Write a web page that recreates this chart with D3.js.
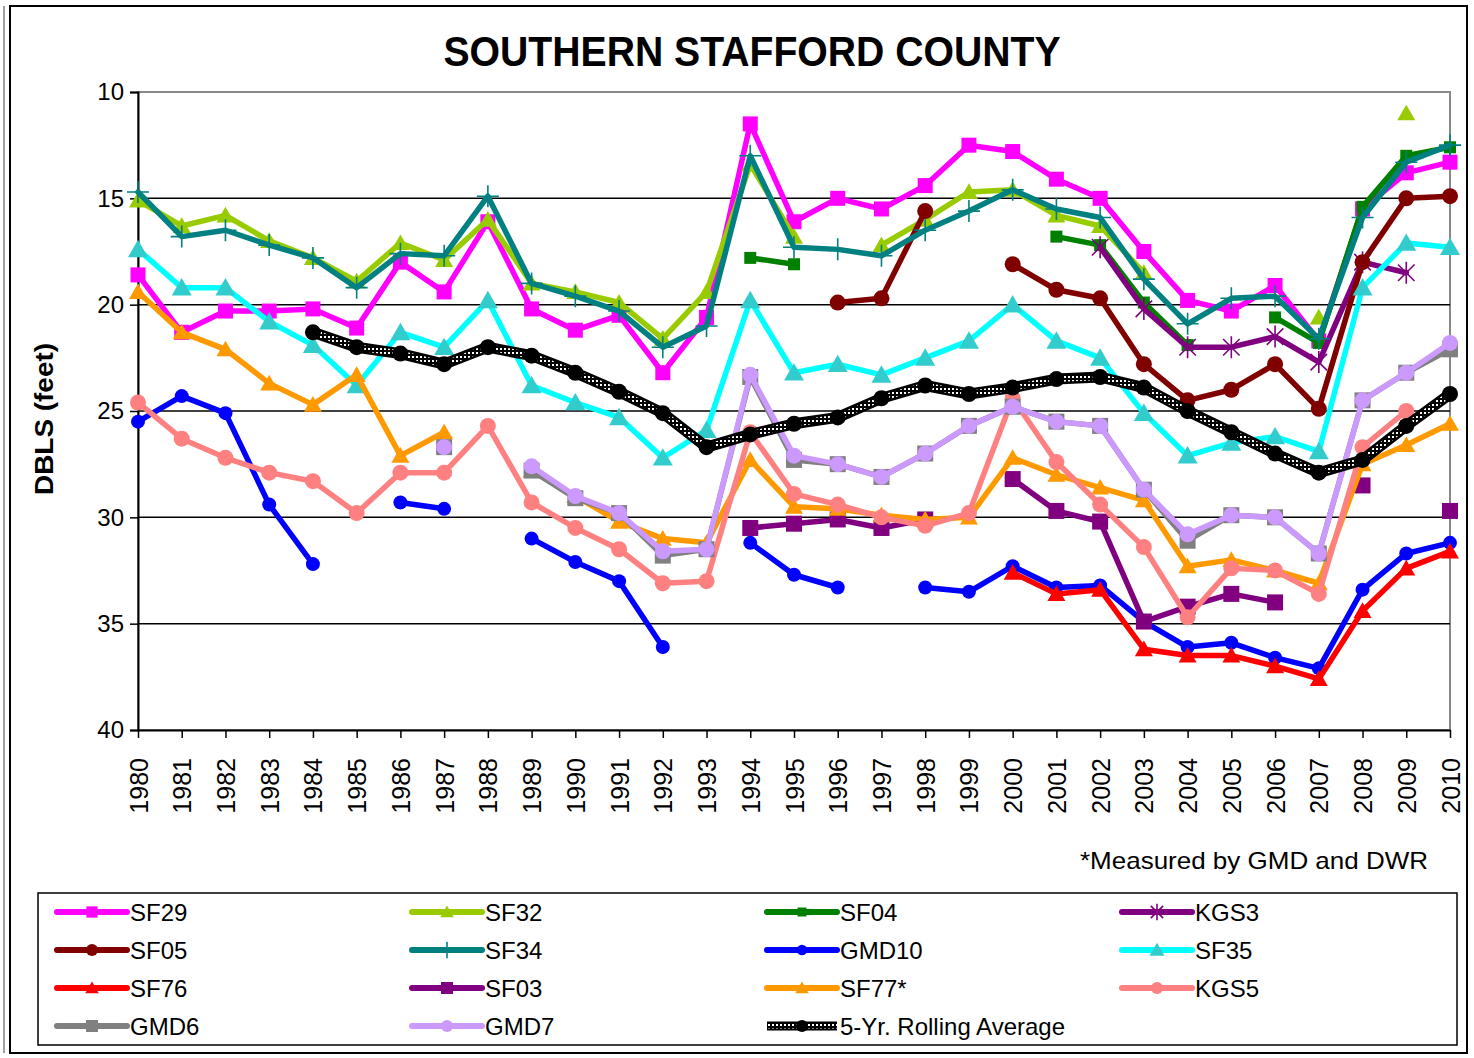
<!DOCTYPE html>
<html>
<head>
<meta charset="utf-8">
<script src="https://cdn.jsdelivr.net/npm/d3@7"></script>
<style>
  body { margin: 0; background: #fff; }
  text { font-family: "Liberation Sans", Arial, sans-serif; fill: #000; }
</style>
</head>
<body>
<div id="chart"></div>
<script>
// --- DATA (one value per year, null = no measure) ---
const years = d3.range(1980, 2011);
const yTicks = [10, 15, 20, 25, 30, 35, 40];

const sf29 = [18.6,21.3,20.3,20.3,20.2,21.1,18.0,19.4,16.1,20.2,21.2,20.5,23.2,20.6,11.5,16.1,15.0,15.5,14.4,12.5,12.8,14.1,15.0,17.5,19.8,20.3,19.1,21.7,15.5,13.8,13.3];
const sf32 = [15.1,16.3,15.8,17.0,17.8,18.9,17.1,17.9,16.0,19.0,19.4,19.9,21.6,19.4,13.4,16.8,null,17.2,16.0,14.7,14.6,15.8,16.3,18.5,null,null,null,20.6,null,11.0,null];
const sf04 = [null,null,null,null,null,null,null,null,null,null,null,null,null,null,17.8,18.1,null,null,null,null,null,16.8,17.2,19.9,21.9,null,20.6,21.8,15.4,13.0,12.6];
const kgs3 = [null,null,null,null,null,null,null,null,null,null,null,null,null,null,null,null,null,null,null,null,null,null,17.3,20.2,22.0,22.0,21.5,22.7,18.0,18.5,null];
const sf05 = [null,null,null,null,null,null,null,null,null,null,null,null,null,null,null,null,19.9,19.7,15.6,null,18.1,19.3,19.7,22.8,24.5,24.0,22.8,24.9,18.0,15.0,14.9];
const sf34 = [14.7,16.8,16.5,17.2,17.8,19.2,17.6,17.7,14.9,19.0,19.6,20.3,22.0,21.0,13.0,17.3,17.4,17.7,16.5,15.6,14.6,15.5,15.9,18.8,20.9,19.7,19.6,21.6,15.9,13.3,12.5];
const gmd10 = [25.5,24.3,25.1,29.4,32.2,null,29.3,29.6,null,31.0,32.1,33.0,36.1,null,31.2,32.7,33.3,null,33.3,33.5,32.3,33.3,33.2,34.9,36.1,35.9,36.6,37.1,33.4,31.7,31.2];
const sf35 = [17.4,19.2,19.2,20.8,21.9,23.8,21.3,22.0,19.8,23.8,24.6,25.3,27.2,25.9,19.8,23.2,22.8,23.3,22.5,21.7,20.0,21.7,22.5,25.1,27.1,26.5,26.2,26.9,19.2,17.1,17.3];
const sf76 = [null,null,null,null,null,null,null,null,null,null,null,null,null,null,null,null,null,null,null,null,32.6,33.6,33.4,36.2,36.5,36.5,37.0,37.6,34.4,32.4,31.6];
const sf03 = [null,null,null,null,null,null,null,null,null,null,null,null,null,null,30.5,30.3,30.1,30.5,30.1,null,28.2,29.7,30.2,34.9,34.2,33.6,34.0,null,28.5,null,29.7];
const sf77 = [19.4,21.3,22.1,23.7,24.7,23.3,27.1,26.0,null,27.8,29.0,30.2,31.0,31.2,27.3,29.5,29.6,29.9,30.1,30.0,27.2,28.0,28.6,29.2,32.3,32.0,32.5,33.1,27.5,26.6,25.6];
const kgs5 = [24.6,26.3,27.2,27.9,28.3,29.8,27.9,27.9,25.7,29.3,30.5,31.5,33.1,33.0,26.0,28.9,29.4,30.0,30.4,29.8,24.4,27.4,29.4,31.4,34.7,32.4,32.5,33.6,26.7,25.0,null];
const gmd6 = [null,null,null,null,null,null,null,26.7,null,27.8,29.1,29.8,31.8,31.5,23.4,27.3,27.5,28.1,27.0,25.7,24.8,25.5,25.7,28.7,31.1,29.9,30.0,31.7,24.5,23.2,22.1];
const gmd7 = [null,null,null,null,null,null,null,26.7,null,27.6,29.0,29.8,31.6,31.5,23.3,27.1,27.5,28.1,27.0,25.7,24.8,25.5,25.7,28.7,30.8,29.9,30.0,31.7,24.5,23.2,21.8];
const rolling = [null,null,null,null,21.3,22.0,22.3,22.8,22.0,22.4,23.2,24.1,25.1,26.7,26.1,25.6,25.3,24.4,23.8,24.2,23.9,23.5,23.4,23.9,25.0,26.0,27.0,27.9,27.3,25.7,24.2];

// series in drawing / legend order
const series = [
  {name: "SF29", values: sf29, line: "#FF00FF", fill: "#FF00FF", marker: "square", size: 15},
  {name: "SF32", values: sf32, line: "#99CC00", fill: "#99CC00", marker: "triangle", size: 18},
  {name: "SF04", values: sf04, line: "#008000", fill: "#008000", marker: "square", size: 12},
  {name: "KGS3", values: kgs3, line: "#800080", fill: "#800080", marker: "asterisk", size: 22},
  {name: "SF05", values: sf05, line: "#800000", fill: "#800000", marker: "circle", size: 16},
  {name: "SF34", values: sf34, line: "#008080", fill: "#008080", marker: "plus", size: 22},
  {name: "GMD10", values: gmd10, line: "#0000FF", fill: "#0000FF", marker: "circle", size: 14},
  {name: "SF35", values: sf35, line: "#00FFFF", fill: "#33CCCC", marker: "triangle", size: 20},
  {name: "SF76", values: sf76, line: "#FF0000", fill: "#FF0000", marker: "triangle", size: 18},
  {name: "SF03", values: sf03, line: "#800080", fill: "#800080", marker: "square", size: 16},
  {name: "SF77*", values: sf77, line: "#FF9900", fill: "#FF9900", marker: "triangle", size: 18},
  {name: "KGS5", values: kgs5, line: "#FF8080", fill: "#FF8080", marker: "circle", size: 16},
  {name: "GMD6", values: gmd6, line: "#808080", fill: "#808080", marker: "square", size: 16},
  {name: "GMD7", values: gmd7, line: "#CC99FF", fill: "#CC99FF", marker: "circle", size: 16},
  {name: "5-Yr. Rolling Average", values: rolling, line: "black", fill: "black", marker: "circle", size: 16, dotted: true}
];

// --- LAYOUT ---
const W = 1474, H = 1058;
const plot = {left: 138, top: 92, right: 1450, bottom: 730};

const svg = d3.select("#chart").append("svg")
  .attr("width", W).attr("height", H);

// checkered pattern for the rolling average line
svg.append("defs").append("pattern")
  .attr("id", "dots").attr("patternUnits", "userSpaceOnUse")
  .attr("width", 4).attr("height", 4)
  .call(p => {
    p.append("rect").attr("width", 4).attr("height", 4).attr("fill", "black");
    p.append("rect").attr("width", 2).attr("height", 2).attr("fill", "white");
  });

// outer frame
svg.append("rect").attr("x", 10).attr("y", 6).attr("width", 1457).attr("height", 1047)
  .attr("fill", "white").attr("stroke", "black").attr("stroke-width", 2);
svg.append("line").attr("x1", 4).attr("x2", 4).attr("y1", 6).attr("y2", 1053)
  .attr("stroke", "#444").attr("stroke-width", 1);

// title
svg.append("text")
  .attr("x", 752).attr("y", 66)
  .attr("text-anchor", "middle")
  .attr("font-size", 42).attr("font-weight", "bold")
  .attr("textLength", 617).attr("lengthAdjust", "spacingAndGlyphs")
  .text("SOUTHERN STAFFORD COUNTY");

// scales
const x = d3.scalePoint().domain(years).range([plot.left, plot.right]);
const y = d3.scaleLinear().domain([10, 40]).range([plot.top, plot.bottom]);

// plot border (gray) and grid
svg.append("rect")
  .attr("x", plot.left).attr("y", plot.top)
  .attr("width", plot.right - plot.left).attr("height", plot.bottom - plot.top)
  .attr("fill", "white").attr("stroke", "#888").attr("stroke-width", 2);

svg.append("g").selectAll("line")
  .data(yTicks.filter(t => t > 10 && t < 40))
  .join("line")
  .attr("x1", plot.left).attr("x2", plot.right)
  .attr("y1", d => y(d)).attr("y2", d => y(d))
  .attr("stroke", "black").attr("stroke-width", 1.5);

// y axis
const yAxisG = svg.append("g")
  .attr("transform", "translate(" + plot.left + ",0)")
  .call(d3.axisLeft(y).tickValues(yTicks).tickSize(8).tickPadding(6));
yAxisG.select(".domain").attr("stroke", "black").attr("stroke-width", 2);
yAxisG.selectAll(".tick line").attr("stroke", "black").attr("stroke-width", 1.5);
yAxisG.selectAll(".tick text")
  .attr("font-size", 24).attr("font-family", "Liberation Sans, Arial, sans-serif").attr("fill", "black");

// x axis
const xAxisG = svg.append("g")
  .attr("transform", "translate(0," + plot.bottom + ")")
  .call(d3.axisBottom(x).tickSize(8).tickSizeOuter(0));
xAxisG.select(".domain").attr("stroke", "black").attr("stroke-width", 2);
xAxisG.selectAll(".tick line").attr("stroke", "black").attr("stroke-width", 1.5);
xAxisG.selectAll(".tick text")
  .attr("font-size", 25).attr("font-family", "Liberation Sans, Arial, sans-serif").attr("fill", "black")
  .attr("text-anchor", "end")
  .attr("transform", "rotate(-90)")
  .attr("x", -28).attr("y", 0).attr("dy", "0.36em");

// y axis label
svg.append("text")
  .attr("transform", "translate(53,419) rotate(-90)")
  .attr("text-anchor", "middle")
  .attr("font-size", 25).attr("font-weight", "bold")
  .attr("textLength", 152).attr("lengthAdjust", "spacingAndGlyphs")
  .text("DBLS (feet)");

// note
svg.append("text")
  .attr("x", 1428).attr("y", 869)
  .attr("text-anchor", "end")
  .attr("font-size", 24)
  .attr("textLength", 348).attr("lengthAdjust", "spacingAndGlyphs")
  .text("*Measured by GMD and DWR");

// --- MARKERS ---
function markerPath(type, s) {
  const h = s / 2;
  if (type === "square") return d3.symbol(d3.symbolSquare, s * s)();
  if (type === "circle") return d3.symbol(d3.symbolCircle, Math.PI * h * h)();
  if (type === "triangle") {
    const th = s * 0.87;
    return "M0," + (-th * 0.55) + "L" + h + "," + (th * 0.45) + "L" + (-h) + "," + (th * 0.45) + "Z";
  }
  if (type === "plus") return "M" + (-h) + ",0H" + h + "M0," + (-h) + "V" + h;
  if (type === "asterisk") {
    const d = h * 0.75;
    return "M0," + (-h) + "V" + h + "M" + (-d) + "," + (-d) + "L" + d + "," + d + "M" + d + "," + (-d) + "L" + (-d) + "," + d;
  }
  return "";
}

function drawMarker(g, s, px, py, scale) {
  const stroked = s.marker === "plus" || s.marker === "asterisk";
  g.append("path")
    .attr("transform", "translate(" + px + "," + py + ")")
    .attr("d", markerPath(s.marker, s.size * (scale || 1)))
    .attr("fill", stroked ? "none" : s.fill)
    .attr("stroke", stroked ? s.fill : "none")
    .attr("stroke-width", stroked ? 1.6 : 0);
}

const lineGen = d3.line()
  .defined(d => d.v !== null)
  .x(d => x(d.year))
  .y(d => y(d.v));

const seriesG = svg.append("g").attr("class", "series");

series.forEach(s => {
  const pts = years.map((yr, i) => ({year: yr, v: s.values[i]}));
  const g = seriesG.append("g");
  if (s.dotted) {
    g.append("path").datum(pts).attr("d", lineGen)
      .attr("fill", "none").attr("stroke", "black").attr("stroke-width", 11)
      .attr("stroke-linejoin", "round").attr("stroke-linecap", "round");
    g.append("path").datum(pts).attr("d", lineGen)
      .attr("fill", "none").attr("stroke", "url(#dots)").attr("stroke-width", 6)
      .attr("stroke-linejoin", "round");
  } else {
    g.append("path").datum(pts).attr("d", lineGen)
      .attr("fill", "none").attr("stroke", s.line).attr("stroke-width", 5.5)
      .attr("stroke-linejoin", "round").attr("stroke-linecap", "round");
  }
  pts.filter(d => d.v !== null).forEach(d => drawMarker(g, s, x(d.year), y(d.v)));
});

// --- LEGEND ---
const legend = {left: 38, top: 893, width: 1419, height: 152};
svg.append("rect")
  .attr("x", legend.left).attr("y", legend.top)
  .attr("width", legend.width).attr("height", legend.height)
  .attr("fill", "white").attr("stroke", "black").attr("stroke-width", 1.5);

const colX = [57, 412, 767, 1122];
const rowY = [912, 950, 988, 1026];

series.forEach((s, i) => {
  const lx = colX[i % 4], ly = rowY[Math.floor(i / 4)];
  const g = svg.append("g");
  if (s.dotted) {
    g.append("line").attr("x1", lx).attr("x2", lx + 70).attr("y1", ly).attr("y2", ly)
      .attr("stroke", "black").attr("stroke-width", 9);
    g.append("line").attr("x1", lx).attr("x2", lx + 70).attr("y1", ly).attr("y2", ly)
      .attr("stroke", "url(#dots)").attr("stroke-width", 5);
  } else {
    g.append("line").attr("x1", lx).attr("x2", lx + 70).attr("y1", ly).attr("y2", ly)
      .attr("stroke", s.line).attr("stroke-width", 6).attr("stroke-linecap", "round");
  }
  drawMarker(g, s, lx + 35, ly, 0.75);
  g.append("text")
    .attr("x", lx + 73).attr("y", ly)
    .attr("dy", "0.36em")
    .attr("font-size", 24)
    .text(s.name);
});
</script>
</body>
</html>
